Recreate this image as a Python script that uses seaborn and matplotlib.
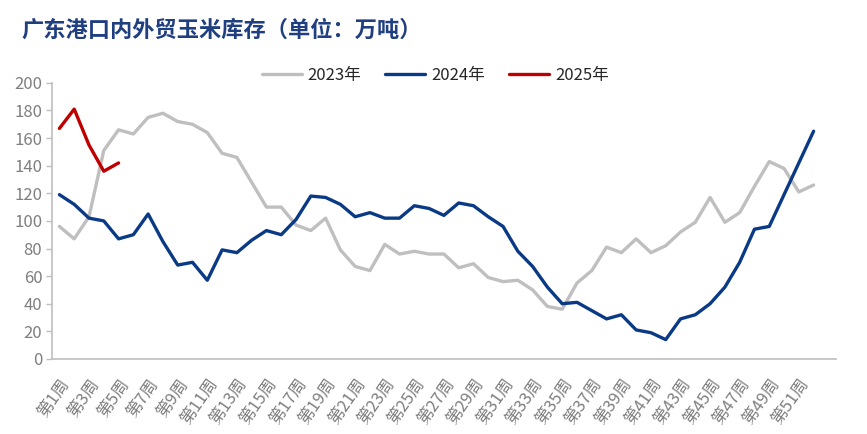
import numpy as np
import pandas as pd
import matplotlib
matplotlib.use("Agg")
import matplotlib.pyplot as plt
import seaborn as sns

weeks = [f"第{i}周" for i in range(1, 54)]

y2023 = [96, 87, 103, 151, 166, 163, 175, 178, 172, 170, 164, 149, 146, 128, 110, 110, 97,
         93, 102, 79, 67, 64, 83, 76, 78, 76, 76, 66, 69, 59, 56, 57, 50, 38, 36, 55,
         64, 81, 77, 87, 77, 82, 92, 99, 117, 99, 106, 125, 143, 138, 121, 126]
y2024 = [119, 112, 102, 100, 87, 90, 105, 85, 68, 70, 57, 79, 77, 86, 93, 90, 101,
         118, 117, 112, 103, 106, 102, 102, 111, 109, 104, 113, 111, 103, 96, 78, 67,
         52, 40, 41, 35, 29, 32, 21, 19, 14, 29, 32, 40, 52, 70, 94, 96, 119, 142, 165]
y2025 = [167, 181, 155, 136, 142]

series = {"2023年": y2023, "2024年": y2024, "2025年": y2025}
colors = {"2023年": "#BFBFBF", "2024年": "#0A3A86", "2025年": "#C00000"}

rows = []
for name, vals in series.items():
    for i, v in enumerate(vals):
        rows.append({"week": i, "value": v, "year": name})
df = pd.DataFrame(rows)

sns.set_theme(style="white")
plt.rcParams['font.family'] = ['Noto Sans CJK SC', 'DejaVu Sans']

fig = plt.figure(figsize=(8.67, 4.34), dpi=100)
ax = fig.add_axes([0.060, 0.173, 0.904, 0.636])

sns.lineplot(data=df, x="week", y="value", hue="year", palette=colors,
             linewidth=2.4, ax=ax, legend=True)
for line in ax.get_lines():
    line.set_solid_joinstyle('round')

ax.set_xlim(-0.5, len(weeks) - 0.5)
ax.set_ylim(0, 200)
ax.set_yticks(range(0, 201, 20))
lab_idx = list(range(0, 52, 2))
ax.set_xticks(lab_idx)
ax.set_xticklabels([weeks[i] for i in lab_idx], rotation=55,
                   ha='right', va='top', rotation_mode='anchor', fontsize=12, color='#7F7F7F')
ax.set_xticks(np.arange(-0.5, len(weeks), 1), minor=True)
ax.tick_params(axis='x', which='major', length=0, pad=12)
ax.tick_params(axis='x', which='minor', length=4, color='#BFBFBF', width=1, direction='out')
ax.tick_params(axis='y', length=4, color='#BFBFBF', width=1, labelsize=12,
               labelcolor='#7F7F7F', pad=3, left=True)
ax.set_xlabel("")
ax.set_ylabel("")
for s in ['top', 'right']:
    ax.spines[s].set_visible(False)
for s in ['left', 'bottom']:
    ax.spines[s].set_color('#BFBFBF')
    ax.spines[s].set_linewidth(1.2)
ax.grid(False)

handles, labels = ax.get_legend_handles_labels()
ax.legend(handles, labels, loc='center', bbox_to_anchor=(0.502, 0.827),
          bbox_transform=fig.transFigure, ncol=3, frameon=False, fontsize=12,
          handlelength=2.4, handletextpad=0.35, columnspacing=1.45)

fig.text(0.025, 0.93, "广东港口内外贸玉米库存（单位：万吨）", fontsize=16,
         fontweight='bold', color='#1F3F80', ha='left', va='center')

fig.savefig("out.png", dpi=100)
